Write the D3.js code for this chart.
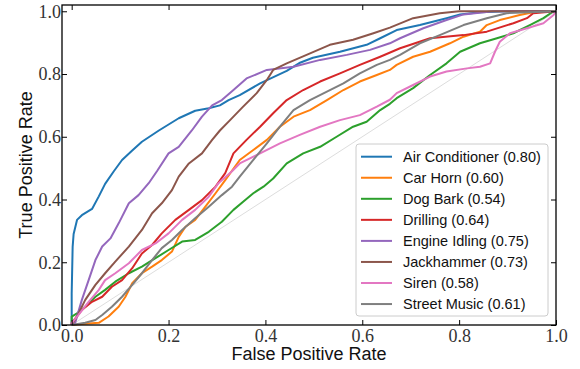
<!DOCTYPE html>
<html>
<head>
<meta charset="utf-8">
<script src="https://cdn.jsdelivr.net/npm/d3@7"></script>
<style>
  body { margin: 0; background: #fff; }
  svg { display: block; }
  .tick text { font-family: "Liberation Serif", serif; font-size: 18px; fill: #333; }
</style>
</head>
<body>
<svg id="chart" width="580" height="369"></svg>
<script>
// class names and AUC values from the legend
const classNames = ['Air Conditioner', 'Car Horn', 'Dog Bark', 'Drilling',
  'Engine Idling', 'Jackhammer', 'Siren', 'Street Music'];
const aucValues = [0.80, 0.60, 0.54, 0.64, 0.75, 0.73, 0.58, 0.61];
const tickValues = [0, 0.2, 0.4, 0.6, 0.8, 1.0];

// ROC points [fpr, tpr]
const airConditioner = [[0,0],[0,0.1],[0.002,0.25],[0.004,0.29],[0.011,0.335],[0.021,0.35],
  [0.042,0.37],[0.056,0.41],[0.069,0.45],[0.087,0.49],[0.104,0.526],[0.125,0.556],[0.145,0.584],
  [0.18,0.62],[0.221,0.659],[0.255,0.683],[0.283,0.691],[0.306,0.70],[0.324,0.717],[0.347,0.733],
  [0.389,0.77],[0.444,0.81],[0.47,0.835],[0.498,0.852],[0.554,0.871],[0.609,0.893],[0.637,0.914],
  [0.671,0.94],[0.719,0.956],[0.774,0.978],[0.802,0.99],[0.843,0.997],[0.9,1],[1,1]];
const carHorn = [[0,0],[0.021,0.003],[0.056,0.007],[0.076,0.027],[0.097,0.058],[0.111,0.09],
  [0.125,0.133],[0.145,0.165],[0.166,0.186],[0.186,0.207],[0.207,0.234],[0.221,0.281],[0.235,0.313],
  [0.255,0.335],[0.276,0.377],[0.297,0.42],[0.317,0.462],[0.347,0.526],[0.375,0.558],[0.403,0.59],
  [0.43,0.632],[0.458,0.664],[0.492,0.685],[0.527,0.717],[0.561,0.749],[0.595,0.776],[0.63,0.797],
  [0.657,0.813],[0.671,0.829],[0.705,0.855],[0.74,0.871],[0.781,0.898],[0.809,0.919],[0.843,0.935],
  [0.857,0.956],[0.884,0.972],[0.925,0.988],[0.953,0.997],[1,1]];
const dogBark = [[0,0],[0,0.027],[0.011,0.037],[0.028,0.058],[0.049,0.09],[0.069,0.112],[0.09,0.138],
  [0.118,0.165],[0.145,0.186],[0.173,0.213],[0.2,0.239],[0.228,0.266],[0.255,0.271],[0.283,0.297],
  [0.31,0.329],[0.334,0.367],[0.354,0.393],[0.375,0.42],[0.396,0.441],[0.416,0.467],[0.444,0.515],
  [0.478,0.547],[0.513,0.568],[0.547,0.60],[0.581,0.632],[0.609,0.648],[0.637,0.685],[0.657,0.705],
  [0.671,0.723],[0.705,0.755],[0.74,0.797],[0.774,0.834],[0.802,0.871],[0.843,0.898],[0.878,0.914],
  [0.912,0.93],[0.946,0.956],[0.974,0.978],[0.995,1],[1,1]];
const drilling = [[0,0],[0,0.006],[0.021,0.048],[0.042,0.074],[0.063,0.09],[0.083,0.122],[0.104,0.143],
  [0.125,0.181],[0.145,0.228],[0.166,0.255],[0.186,0.292],[0.214,0.335],[0.242,0.367],[0.269,0.398],
  [0.297,0.441],[0.317,0.484],[0.334,0.547],[0.361,0.59],[0.389,0.632],[0.416,0.675],[0.444,0.717],
  [0.478,0.749],[0.513,0.776],[0.554,0.802],[0.595,0.829],[0.637,0.855],[0.678,0.882],[0.74,0.914],
  [0.809,0.924],[0.857,0.935],[0.912,0.962],[0.94,0.978],[0.953,0.994],[1,1]];
const engineIdling = [[0,0],[0.007,0.006],[0.021,0.08],[0.035,0.143],[0.049,0.207],[0.063,0.25],
  [0.08,0.276],[0.097,0.324],[0.118,0.388],[0.138,0.414],[0.159,0.452],[0.176,0.49],[0.2,0.547],
  [0.221,0.568],[0.248,0.62],[0.269,0.664],[0.29,0.70],[0.31,0.717],[0.334,0.749],[0.361,0.786],
  [0.403,0.813],[0.458,0.823],[0.513,0.845],[0.568,0.861],[0.616,0.877],[0.657,0.898],[0.678,0.914],
  [0.726,0.946],[0.774,0.972],[0.809,0.99],[0.87,1],[1,1]];
const jackhammer = [[0,0],[0.011,0.027],[0.028,0.08],[0.049,0.128],[0.069,0.165],[0.09,0.202],
  [0.118,0.25],[0.145,0.303],[0.166,0.356],[0.186,0.388],[0.207,0.43],[0.221,0.473],[0.242,0.515],
  [0.269,0.547],[0.29,0.59],[0.306,0.62],[0.327,0.653],[0.354,0.696],[0.382,0.739],[0.403,0.781],
  [0.416,0.813],[0.444,0.834],[0.485,0.861],[0.533,0.893],[0.581,0.909],[0.623,0.93],[0.657,0.948],
  [0.705,0.978],[0.76,0.994],[0.8,1],[1,1]];
const siren = [[0,0],[0,0.006],[0.014,0.032],[0.035,0.074],[0.056,0.112],[0.069,0.143],[0.09,0.165],
  [0.118,0.197],[0.145,0.239],[0.173,0.26],[0.2,0.292],[0.228,0.335],[0.255,0.367],[0.283,0.409],
  [0.303,0.452],[0.331,0.49],[0.347,0.515],[0.389,0.547],[0.43,0.579],[0.471,0.606],[0.513,0.632],
  [0.554,0.653],[0.595,0.669],[0.63,0.696],[0.657,0.718],[0.671,0.739],[0.705,0.765],[0.74,0.792],
  [0.774,0.808],[0.816,0.818],[0.843,0.823],[0.864,0.834],[0.874,0.871],[0.884,0.903],[0.905,0.93],
  [0.94,0.946],[0.974,0.962],[0.995,0.988],[1,1]];
const streetMusic = [[0,0],[0.028,0.007],[0.049,0.016],[0.063,0.032],[0.083,0.058],[0.104,0.09],
  [0.125,0.128],[0.145,0.165],[0.166,0.207],[0.186,0.245],[0.207,0.271],[0.228,0.303],[0.255,0.34],
  [0.283,0.377],[0.31,0.414],[0.331,0.441],[0.347,0.473],[0.375,0.526],[0.403,0.579],[0.43,0.632],
  [0.458,0.685],[0.492,0.717],[0.527,0.744],[0.561,0.77],[0.595,0.802],[0.63,0.829],[0.657,0.845],
  [0.678,0.861],[0.719,0.898],[0.76,0.924],[0.809,0.956],[0.857,0.978],[0.898,0.994],[1,1]];

const curves = [airConditioner, carHorn, dogBark, drilling, engineIdling, jackhammer, siren, streetMusic];
const colors = ['#1f77b4', '#ff7f0e', '#2ca02c', '#d62728', '#9467bd', '#8c564b', '#e377c2', '#7f7f7f'];

const svg = d3.select('#chart');
const plotLeft = 62, plotRight = 556, plotTop = 5, plotBottom = 325;

const x = d3.scaleLinear().domain([-0.02, 1.0]).range([plotLeft, plotRight]);
const y = d3.scaleLinear().domain([0, 1.02]).range([plotBottom, plotTop]);

// chance diagonal
svg.append('line')
  .attr('x1', x(0)).attr('y1', y(0))
  .attr('x2', x(1)).attr('y2', y(1))
  .attr('stroke', '#dddddd')
  .attr('stroke-width', 1);

const line = d3.line().x(d => x(d[0])).y(d => y(d[1]));

svg.append('g')
  .attr('fill', 'none')
  .attr('stroke-width', 2)
  .attr('stroke-linejoin', 'round')
  .selectAll('path')
  .data(curves)
  .enter()
  .append('path')
  .attr('stroke', (d, i) => colors[i])
  .attr('d', line);

// axes, ticks pointing inward on every side
const fmt = d3.format('.1f');
svg.append('g')
  .attr('transform', `translate(0,${plotBottom})`)
  .call(d3.axisBottom(x).tickValues(tickValues).tickFormat(fmt).tickSizeInner(-5).tickSizeOuter(0).tickPadding(4));
svg.append('g')
  .attr('transform', `translate(0,${plotTop})`)
  .call(d3.axisTop(x).tickValues(tickValues).tickFormat('').tickSizeInner(-5).tickSizeOuter(0));
svg.append('g')
  .attr('transform', `translate(${plotLeft},0)`)
  .call(d3.axisLeft(y).tickValues(tickValues).tickFormat(fmt).tickSizeInner(-5).tickSizeOuter(0).tickPadding(1));
svg.append('g')
  .attr('transform', `translate(${plotRight},0)`)
  .call(d3.axisRight(y).tickValues(tickValues).tickFormat('').tickSizeInner(-5).tickSizeOuter(0));
svg.selectAll('.domain').remove();
svg.selectAll('.tick line').attr('stroke', '#000').attr('stroke-width', 1);

svg.append('rect')
  .attr('x', plotLeft).attr('y', plotTop)
  .attr('width', plotRight - plotLeft).attr('height', plotBottom - plotTop)
  .attr('fill', 'none')
  .attr('stroke', '#000')
  .attr('stroke-width', 1.3);

// axis titles
svg.append('text')
  .attr('x', (plotLeft + plotRight) / 2)
  .attr('y', 360)
  .attr('text-anchor', 'middle')
  .style('font-family', '"Liberation Sans", Arial, sans-serif')
  .style('font-size', '18px')
  .attr('fill', '#111')
  .text('False Positive Rate');
svg.append('text')
  .attr('transform', `translate(32,${(plotTop + plotBottom) / 2}) rotate(-90)`)
  .attr('text-anchor', 'middle')
  .style('font-family', '"Liberation Sans", Arial, sans-serif')
  .style('font-size', '18px')
  .attr('fill', '#111')
  .text('True Positive Rate');

// legend
const legend = svg.append('g');
legend.append('rect')
  .attr('x', 356).attr('y', 144)
  .attr('width', 192).attr('height', 172)
  .attr('rx', 3)
  .attr('fill', '#fff').attr('fill-opacity', 0.8)
  .attr('stroke', '#cccccc');

const rows = legend.selectAll('g.row')
  .data(classNames)
  .enter()
  .append('g')
  .attr('class', 'row')
  .attr('transform', (d, i) => `translate(0,${156.7 + i * 21.05})`);
rows.append('line')
  .attr('x1', 361).attr('x2', 392)
  .attr('stroke', (d, i) => colors[i])
  .attr('stroke-width', 2);
rows.append('text')
  .attr('x', 403)
  .attr('dy', '0.35em')
  .style('font-family', '"Liberation Sans", Arial, sans-serif')
  .style('font-size', '14.5px')
  .attr('fill', '#111')
  .text((d, i) => `${d} (${aucValues[i].toFixed(2)})`);
</script>
</body>
</html>
